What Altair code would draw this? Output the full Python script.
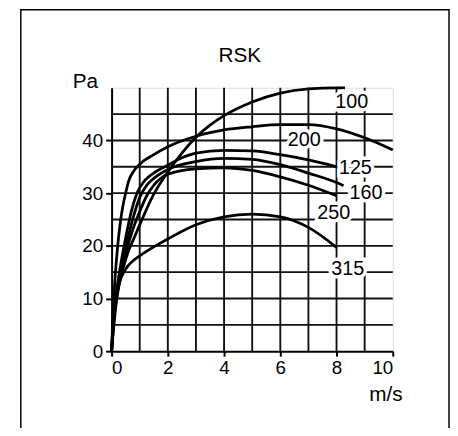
import altair as alt
import pandas as pd

# ---- data ----
x_100 = [0, 0.1, 0.2, 0.4, 0.6, 0.8, 1, 1.5, 2, 2.5, 3, 3.5, 4, 5, 6, 7, 8, 8.3]
y_100 = [0, 6, 10.5, 15.5, 19, 21.5, 24, 29.8, 34, 37.6, 40.6, 42.9, 44.7, 47.3, 49, 49.8, 50, 50]

x_125 = [0, 0.1, 0.25, 0.5, 0.7, 0.9, 1.2, 1.5, 2, 2.5, 3, 4, 5, 6, 7, 8]
y_125 = [0, 8, 14, 21.5, 26.5, 30, 32.5, 33.8, 35.3, 36.7, 37.6, 38.1, 38, 37.3, 36.3, 35]

x_160 = [0, 0.1, 0.25, 0.5, 0.75, 1, 1.25, 1.5, 2, 3, 4, 5, 6, 7, 8, 8.25]
y_160 = [0, 7.5, 13, 19.5, 25, 29.2, 31.5, 32.8, 34.5, 36, 36.6, 36.4, 35.4, 33.8, 32, 31.4]

x_200 = [0, 0.05, 0.1, 0.2, 0.3, 0.4, 0.5, 0.6, 0.8, 1, 1.5, 2, 3, 4, 5, 6, 7, 8, 9, 10]
y_200 = [0, 7, 12, 19, 24, 27.5, 30, 32.2, 34.3, 35.5, 37.3, 38.8, 40.8, 42, 42.6, 43, 43, 42.2, 40.5, 38.2]

x_250 = [0, 0.1, 0.25, 0.5, 0.75, 1, 1.25, 1.5, 2, 3, 4, 5, 6, 7, 8]
y_250 = [0, 7, 12.5, 18.5, 23, 26.5, 29.5, 31.5, 33.6, 34.6, 34.8, 34.3, 33.1, 31.5, 29.5]

x_315 = [0, 0.05, 0.1, 0.25, 0.5, 0.75, 1, 1.5, 2, 3, 4, 5, 6, 7, 8]
y_315 = [0, 5, 8, 12.5, 15.6, 17.1, 18.1, 19.8, 21.3, 24, 25.5, 26, 25.5, 23.5, 19.7]

label_names = ["100", "200", "125", "160", "250", "315"]
label_x = [8.54, 6.85, 8.67, 9.05, 7.9, 8.4]
label_y = [47.2, 40.1, 34.8, 30.1, 26.2, 15.6]

x_ticks = [0, 2, 4, 6, 8, 10]
y_ticks = [0, 10, 20, 30, 40]
x_grid = [1, 2, 3, 4, 5, 6, 7, 8, 9]
y_grid = [5, 10, 15, 20, 25, 30, 35, 40, 45]

title_text = "RSK"
x_title = "m/s"
y_title = "Pa"

# ---- build tables ----
series = {
    "100": (x_100, y_100),
    "125": (x_125, y_125),
    "160": (x_160, y_160),
    "200": (x_200, y_200),
    "250": (x_250, y_250),
    "315": (x_315, y_315),
}
rows = []
for name, (xs, ys) in series.items():
    for i, (xv, yv) in enumerate(zip(xs, ys)):
        rows.append({"series": name, "x": xv, "y": yv, "i": i})
curves = pd.DataFrame(rows)
labels = pd.DataFrame({"name": label_names, "x": label_x, "y": label_y})
xg = pd.DataFrame({"v": x_grid})
yg = pd.DataFrame({"v": y_grid})

FONT = "Liberation Sans"
xscale = alt.Scale(domain=[0, 10], nice=False, zero=False)
yscale = alt.Scale(domain=[0, 50], nice=False, zero=False)

xaxis = alt.Axis(values=x_ticks, grid=False, title=x_title, labelFontSize=19,
                 labelFont=FONT, labelColor="black", labelPadding=3,
                 tickSize=5, tickWidth=2, tickColor="black",
                 domainColor="black", domainWidth=2,
                 titleFont=FONT, titleFontSize=21, titleFontWeight="normal",
                 titleColor="black", titleX=277.5, titleY=43.5,
                 titleAlign="center", titleBaseline="middle")
yaxis = alt.Axis(values=y_ticks, grid=False, title=y_title, labelFontSize=19,
                 labelFont=FONT, labelColor="black", labelPadding=3,
                 tickSize=6, tickWidth=2, tickColor="black",
                 domainColor="black", domainWidth=2,
                 titleFont=FONT, titleFontSize=21, titleFontWeight="normal",
                 titleColor="black", titleAngle=0, titleX=-27, titleY=-6,
                 titleAlign="center", titleBaseline="middle")

vgrid = alt.Chart(xg).mark_rule(color="#111", strokeWidth=1.9).encode(
    x=alt.X("v:Q", scale=xscale, axis=xaxis)
)
hgrid = alt.Chart(yg).mark_rule(color="#111", strokeWidth=1.9).encode(
    y=alt.Y("v:Q", scale=yscale, axis=yaxis)
)

lines = alt.Chart(curves).mark_line(color="black", strokeWidth=2.8,
                                    interpolate="monotone").encode(
    x=alt.X("x:Q", scale=xscale),
    y=alt.Y("y:Q", scale=yscale),
    detail="series:N",
    order="i:Q",
)

halo = alt.Chart(labels).mark_text(font=FONT, fontSize=20, stroke="white",
                                   strokeWidth=7, fill="white",
                                   baseline="middle", align="center").encode(
    x=alt.X("x:Q", scale=xscale), y=alt.Y("y:Q", scale=yscale), text="name:N"
)
txt = alt.Chart(labels).mark_text(font=FONT, fontSize=20, color="black",
                                  baseline="middle", align="center").encode(
    x=alt.X("x:Q", scale=xscale), y=alt.Y("y:Q", scale=yscale), text="name:N"
)

title = alt.Chart(pd.DataFrame({"t": [title_text]})).mark_text(
    font=FONT, fontSize=21, color="black", baseline="middle", align="center"
).encode(text="t:N", x=alt.value(130), y=alt.value(-32))

frame = alt.Chart(pd.DataFrame({"t": [0]})).mark_rect(
    fill=None, stroke="black", strokeWidth=1.5
).encode(x=alt.value(-92), x2=alt.value(342), y=alt.value(-79), y2=alt.value(370))

chart = alt.layer(frame, vgrid, hgrid, lines, halo, txt, title).properties(
    width=285, height=267,
    autosize=alt.AutoSizeParams(type="none"),
    padding={"left": 105, "top": 78, "right": 58, "bottom": 75},
).configure_view(stroke="black", strokeWidth=2).configure(background="white")

chart.save("out.html", embed_options={"renderer": "svg", "actions": False})
